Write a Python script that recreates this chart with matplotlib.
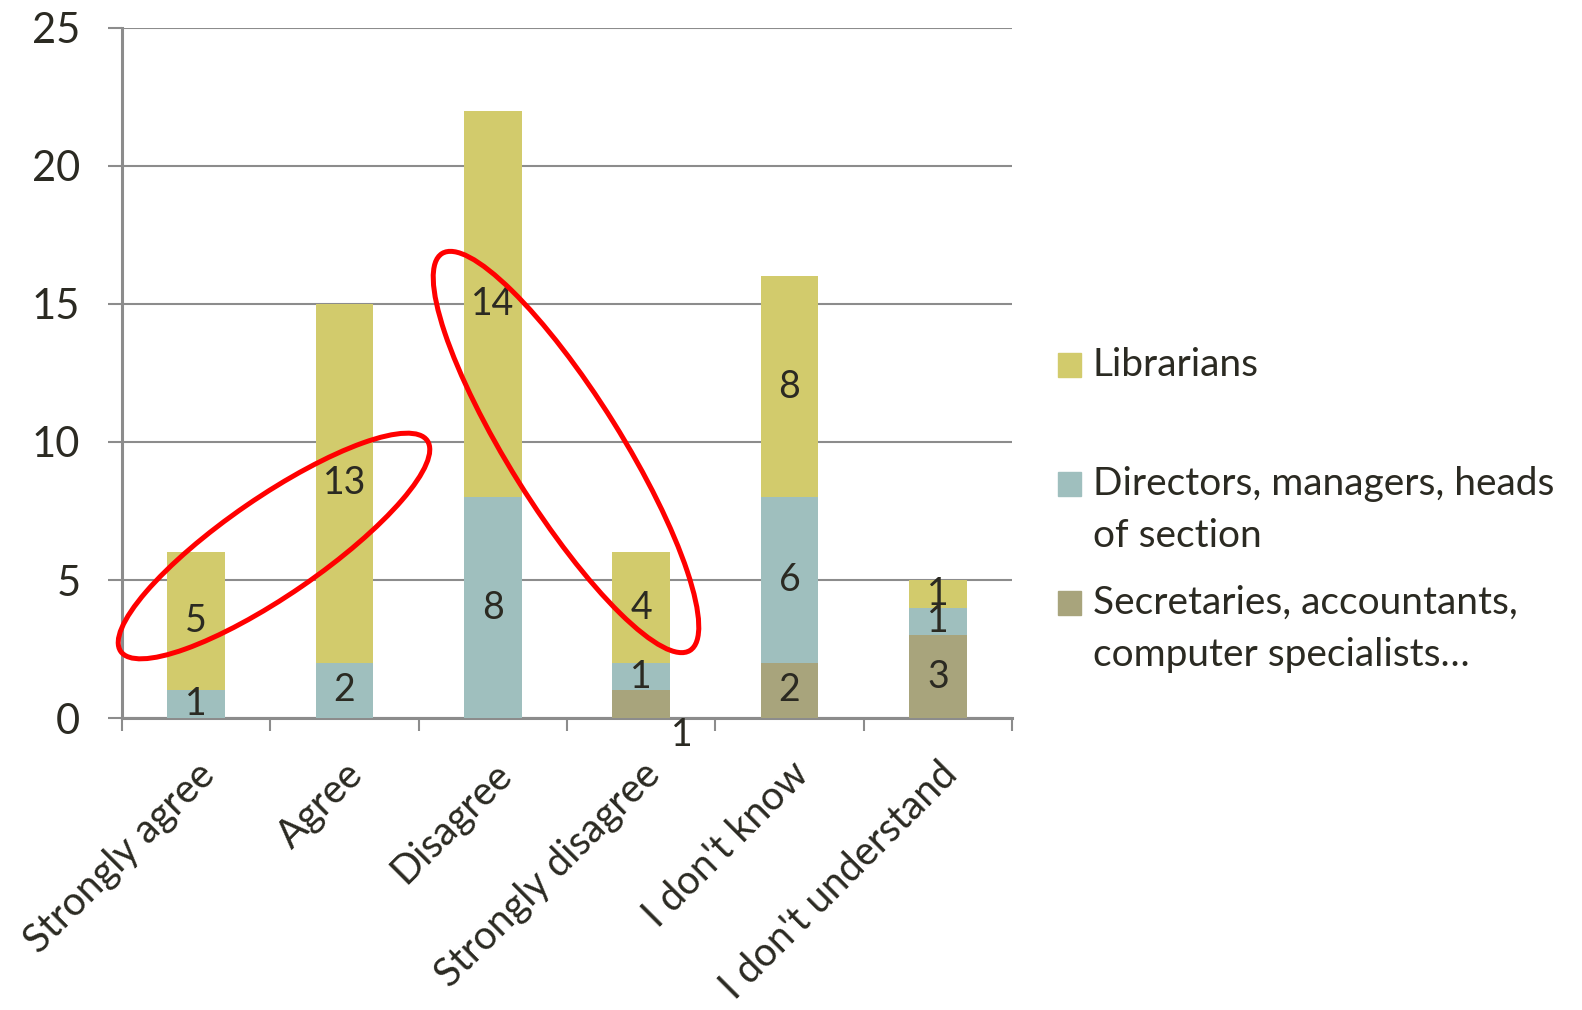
import matplotlib
matplotlib.use("Agg")
import matplotlib.pyplot as plt
from matplotlib.patches import Ellipse, Rectangle
from matplotlib.transforms import IdentityTransform

plt.rcParams['font.family'] = ['Lato', 'DejaVu Sans']

# Data
categories = ["Strongly agree", "Agree", "Disagree", "Strongly disagree",
              "I don't know", "I don't understand"]
secretaries = [0, 0, 0, 1, 2, 3]
directors = [1, 2, 8, 1, 6, 1]
librarians = [5, 13, 14, 4, 8, 1]
series_names = ["Librarians", "Directors, managers, heads\nof section",
                "Secretaries, accountants,\ncomputer specialists\u2026"]
y_ticks = [0, 5, 10, 15, 20, 25]

col_lib = '#d2cb6c'
col_dir = '#9fbfbe'
col_sec = '#a8a47c'
txt_col = '#2b2a22'
grid_col = '#8c8c8c'

fig = plt.figure(figsize=(15.82, 10.10), dpi=100)
ax = fig.add_axes([0.0771, 0.2891, 0.5626, 0.6832])

x = list(range(len(categories)))
w = 0.39
bottom_dir = secretaries
bottom_lib = [s + d for s, d in zip(secretaries, directors)]
ax.bar(x, secretaries, w, color=col_sec, zorder=3)
ax.bar(x, directors, w, bottom=bottom_dir, color=col_dir, zorder=3)
ax.bar(x, librarians, w, bottom=bottom_lib, color=col_lib, zorder=3)

# value labels
for i in x:
    for val, base in [(secretaries[i], 0), (directors[i], bottom_dir[i]),
                      (librarians[i], bottom_lib[i])]:
        if val == 0:
            continue
        if val == secretaries[i] and base == 0 and i == 3:
            # label pushed outside of the small bar
            ax.annotate(str(val), (i, 0), xytext=(29, -12), textcoords='offset points',
                        ha='center', va='center', fontsize=27, color=txt_col, zorder=5)
            continue
        ax.text(i, base + val / 2, str(val), ha='center', va='center',
                fontsize=27, color=txt_col, zorder=5)

ax.set_xlim(-0.5, len(categories) - 0.5)
ax.set_ylim(0, 25)
ax.set_yticks(y_ticks)
ax.set_yticklabels([str(t) for t in y_ticks], fontsize=30, color=txt_col)
ax.tick_params(axis='y', length=10, width=1.5, color=grid_col, pad=20)
ax.yaxis.grid(True, color=grid_col, linewidth=1.5, zorder=0)
ax.set_axisbelow(True)

ax.set_xticks(x)
ax.set_xticklabels(categories, rotation=45, ha='right', rotation_mode='anchor',
                   fontsize=28.5, color=txt_col)
ax.tick_params(axis='x', length=0, pad=27)
ax.set_xticks([i - 0.5 for i in range(len(categories) + 1)], minor=True)
ax.tick_params(axis='x', which='minor', length=9, width=1.5, color=grid_col)

for s in ['top', 'right']:
    ax.spines[s].set_visible(False)
for s in ['left', 'bottom']:
    ax.spines[s].set_color(grid_col)
    ax.spines[s].set_linewidth(2.2)

# legend drawn by hand
leg_y = [365, 484, 603]
leg_cols = [col_lib, col_dir, col_sec]
H = 1010
for yy, c, name in zip(leg_y, leg_cols, series_names):
    fig.patches.append(Rectangle((1058 / 1582, (H - yy - 12) / H), 23 / 1582, 24 / H,
                                 transform=fig.transFigure, color=c))
    fig.text(1093 / 1582, (H - yy + 18) / H, name, fontsize=28, color=txt_col,
             va='top', ha='left', linespacing=1.55, transform=fig.transFigure)

# red ellipses (annotation)
for cx, cy, ew, eh, ang in [(274, 546, 372, 98, 34.5), (566, 452, 468, 112, -58)]:
    e = Ellipse((cx, H - cy), ew, eh, angle=ang, fill=False, edgecolor='#ff0000',
                linewidth=3.6, transform=IdentityTransform(), zorder=10)
    fig.patches.append(e)

fig.savefig('out.png', dpi=100)
